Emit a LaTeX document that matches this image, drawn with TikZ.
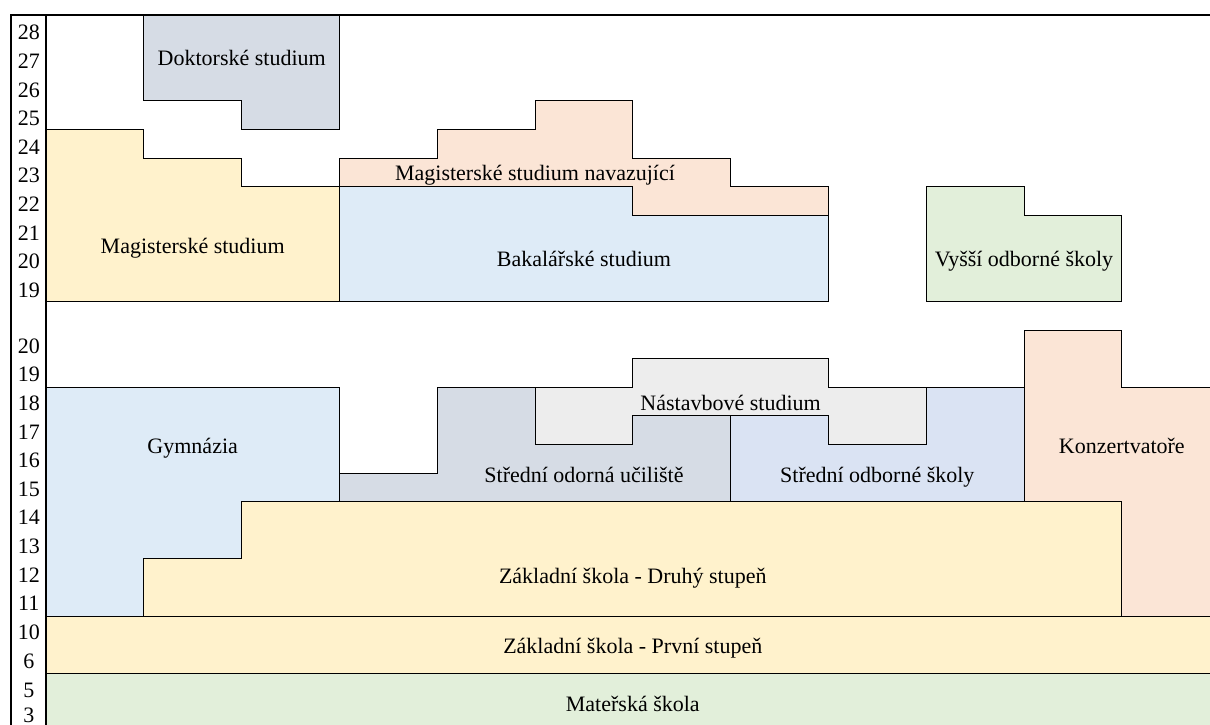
\documentclass[tikz,border=0pt]{standalone}
\usepackage{fontspec}
\setmainfont{Liberation Serif}
\definecolor{cDok}{HTML}{D6DCE5}
\definecolor{cYel}{HTML}{FFF2CC}
\definecolor{cPea}{HTML}{FBE5D6}
\definecolor{cBlu}{HTML}{DEEBF7}
\definecolor{cGrn}{HTML}{E2EFDA}
\definecolor{cGry}{HTML}{EDEDED}
\definecolor{cLav}{HTML}{DAE3F3}
\begin{document}
\begin{tikzpicture}[x=1pt,y=-1pt,
  blk/.style={draw=black,line width=1pt,line join=miter},
  lbl/.style={inner sep=0pt,anchor=base,font=\fontsize{22}{24}\selectfont},
  frame/.style={line width=1.7pt,draw=black}]
\useasboundingbox (0,0) rectangle (1210,725);
\clip (0,0) rectangle (1210,725);
\fill[white] (0,0) rectangle (1210,725);
% upper section
\draw[blk,fill=cDok] (143.8,15)--(339.4,15)--(339.4,129.4)--(241.6,129.4)--(241.6,100.8)--(143.8,100.8)--cycle;
\draw[blk,fill=cYel] (46,129.4)--(143.8,129.4)--(143.8,158)--(241.6,158)--(241.6,186.6)--(339.4,186.6)--(339.4,301)--(46,301)--cycle;
\draw[blk,fill=cPea] (339.4,186.6)--(339.4,158)--(437.2,158)--(437.2,129.4)--(535,129.4)--(535,100.8)--(632.8,100.8)--(632.8,158)--(730.6,158)--(730.6,186.6)--(828.4,186.6)--(828.4,215.2)--(632.8,215.2)--(632.8,186.6)--cycle;
\draw[blk,fill=cBlu] (339.4,186.6)--(632.8,186.6)--(632.8,215.2)--(828.4,215.2)--(828.4,301)--(339.4,301)--cycle;
\draw[blk,fill=cGrn] (926.2,186.6)--(1024,186.6)--(1024,215.2)--(1121.8,215.2)--(1121.8,301)--(926.2,301)--cycle;
% lower section
\draw[blk,fill=cBlu] (46,387.2)--(339.4,387.2)--(339.4,501.6)--(241.6,501.6)--(241.6,558.8)--(143.8,558.8)--(143.8,616)--(46,616)--cycle;
\draw[blk,fill=cYel] (143.8,616)--(143.8,558.8)--(241.6,558.8)--(241.6,501.6)--(1121.8,501.6)--(1121.8,616)--cycle;
\draw[blk,fill=cDok] (339.4,501.6)--(339.4,473)--(437.2,473)--(437.2,387.2)--(535,387.2)--(535,444.4)--(632.8,444.4)--(632.8,415.8)--(730.6,415.8)--(730.6,501.6)--cycle;
\draw[blk,fill=cGry] (535,387.2)--(632.8,387.2)--(632.8,358.6)--(828.4,358.6)--(828.4,387.2)--(926.2,387.2)--(926.2,444.4)--(828.4,444.4)--(828.4,415.8)--(632.8,415.8)--(632.8,444.4)--(535,444.4)--cycle;
\draw[blk,fill=cLav] (730.6,501.6)--(730.6,415.8)--(828.4,415.8)--(828.4,444.4)--(926.2,444.4)--(926.2,387.2)--(1024,387.2)--(1024,501.6)--cycle;
\draw[blk,fill=cPea] (1024,501.6)--(1024,330)--(1121.8,330)--(1121.8,387.2)--(1219.6,387.2)--(1219.6,616)--(1121.8,616)--(1121.8,501.6)--cycle;
\draw[blk,fill=cYel] (46,616) rectangle (1219.6,673.2);
\draw[blk,fill=cGrn] (46,673.2) rectangle (1219.6,730.4);
% frame
\draw[frame] (11,740)--(11,15)--(1215,15);
\draw[frame] (46,15)--(46,740);
% labels
\node[lbl] (dok) at (241.7,66) {Doktorské studium};
\node[lbl] (mag) at (192.7,253) {Magisterské studium};
\node[lbl] (nav) at (535,180) {Magisterské studium navazující};
\node[lbl] (bak) at (583.9,266) {Bakalářské studium};
\node[lbl] (vos) at (1024,266) {Vyšší odborné školy};
\node[lbl] (gym) at (192.7,453) {Gymnázia};
\node[lbl] (nas) at (730.6,410) {Nástavbové studium};
\node[lbl] (sou) at (584,482) {Střední odorná učiliště};
\node[lbl] (sos) at (877.3,482) {Střední odborné školy};
\node[lbl] (kon) at (1121.8,453) {Konzertvatoře};
\node[lbl] (zs2) at (632.8,583) {Základní škola - Druhý stupeň};
\node[lbl] (zs1) at (632.8,653) {Základní škola - První stupeň};
\node[lbl] (ms) at (632.8,711) {Mateřská škola};
% age numbers
\foreach \a [count=\i from 0] in {28,27,26,25,24,23,22,21,20,19}
  \node[lbl] (u\a) at (28.8,{32.3+28.6*\i+7.5}) {\a};
\foreach \a [count=\i from 0] in {20,19,18,17,16,15,14,13,12,11}
  \node[lbl] (l\a) at (28.8,{345.8+28.6*\i+7.5}) {\a};
\node[lbl] (b10) at (28.8,639.5) {10};
\node[lbl] (b6) at (28.8,668.5) {6};
\node[lbl] (b5) at (28.8,697.5) {5};
\node[lbl] (b3) at (28.8,722.5) {3};
\end{tikzpicture}
\end{document}
